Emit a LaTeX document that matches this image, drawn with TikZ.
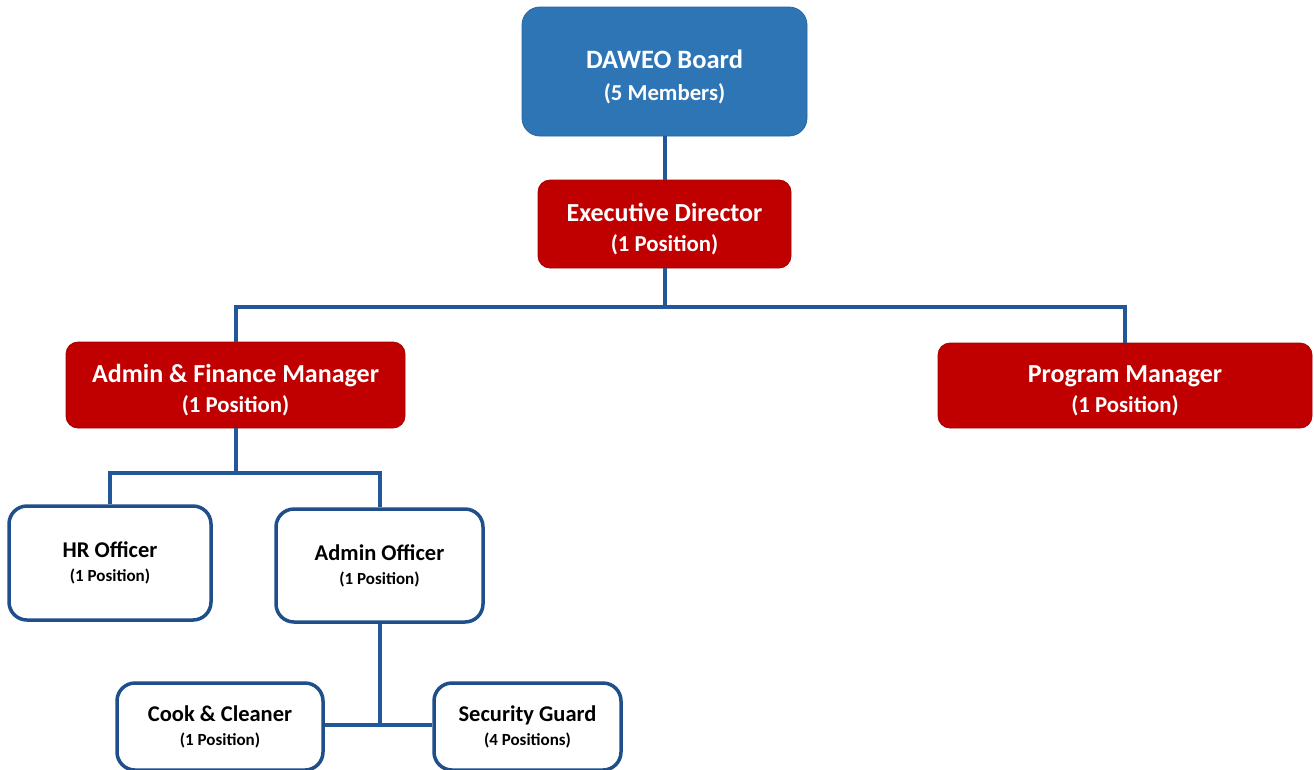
\documentclass[tikz,border=0pt]{standalone}
\usepackage{fontspec}
\setmainfont{Carlito}
\definecolor{boardblue}{HTML}{2E75B6}
\definecolor{boxred}{HTML}{C00000}
\definecolor{linkblue}{HTML}{22589A}
\tikzset{
  boardbox/.style={draw=boardblue!85!black, line width=0.8pt, fill=boardblue, rounded corners=18pt, text=white, align=center, inner sep=0pt, font=\fontsize{23}{32}\selectfont\bfseries},
  redbox/.style={draw=boxred!85!black, line width=0.8pt, fill=boxred, rounded corners=12pt, text=white, align=center, inner sep=0pt, font=\fontsize{23}{30}\selectfont\bfseries},
  whitebox/.style={draw=linkblue!90!black, line width=3.5pt, fill=white, rounded corners=18pt, text=black, align=center, inner sep=0pt, font=\fontsize{17}{24}\selectfont\bfseries},
  link/.style={draw=linkblue, line width=4pt},
}
\newcommand{\bigt}[1]{{\fontsize{26.5}{32}\selectfont #1}}
\newcommand{\redt}[1]{{\fontsize{26}{30}\selectfont #1}}
\newcommand{\reds}[1]{{\fontsize{22.8}{30}\selectfont #1}}
\newcommand{\whitet}[1]{{\fontsize{22.5}{24}\selectfont #1}}
\newcommand{\whites}[1]{{\fontsize{17}{24}\selectfont #1}}
\begin{document}
\begin{tikzpicture}[x=1pt,y=-1pt]
\useasboundingbox (0,0) rectangle (1314,769);
\node[boardbox, minimum width=285pt, minimum height=129pt] (board) at (664.5,71.5) {\rule{0pt}{30pt}\bigt{DAWEO Board}\\\reds{(5 Members)}};
\node[redbox, minimum width=253pt, minimum height=88pt] (ed) at (664.5,224) {\rule{0pt}{28pt}\redt{Executive Director}\\\reds{(1 Position)}};
\node[redbox, minimum width=339pt, minimum height=86pt] (afm) at (235.5,385) {\rule{0pt}{28pt}\redt{Admin \& Finance Manager}\\\reds{(1 Position)}};
\node[redbox, minimum width=374pt, minimum height=85pt] (pm) at (1125,385.5) {\rule{0pt}{28pt}\redt{Program Manager}\\\reds{(1 Position)}};
\node[whitebox, minimum width=202pt, minimum height=114pt] (hr) at (110,563) {\whitet{HR Officer}\\\whites{(1 Position)}};
\node[whitebox, minimum width=207pt, minimum height=113pt] (ao) at (379.5,565.5) {\whitet{Admin Officer}\\\whites{(1 Position)}};
\node[whitebox, minimum width=206pt, minimum height=87pt] (cc) at (220,726.5) {\whitet{Cook \& Cleaner}\\\whites{(1 Position)}};
\node[whitebox, minimum width=187pt, minimum height=87pt] (sg) at (527.5,726.5) {\whitet{Security Guard}\\\whites{(4 Positions)}};
\coordinate (j1) at (664.5,307);
\coordinate (j2) at (235.5,473);
\coordinate (j3) at (379.5,725);
\draw[link] (board.south) -- (ed.north);
\draw[link] (ed.south) -- (j1);
\draw[link] (afm.north) |- (j1) -| (pm.north);
\draw[link] (afm.south) -- (j2);
\draw[link] (hr.north) |- (j2) -| (ao.north);
\draw[link] (ao.south) -- (j3);
\draw[link] (cc.east |- j3) -- (sg.west |- j3);
\end{tikzpicture}
\end{document}
